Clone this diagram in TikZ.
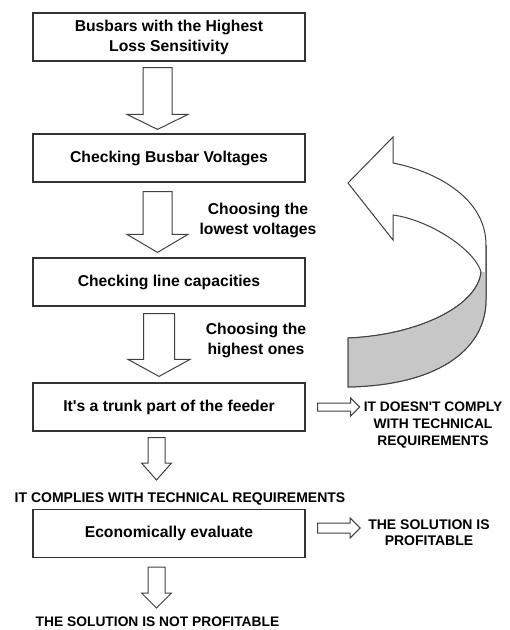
\documentclass[tikz,border=0pt]{standalone}
\usepackage{fontspec}
\setmainfont{Liberation Sans}[Ligatures=TeXOff]
\usetikzlibrary{calc}

% Hollow block arrow pointing down: #1 start (its x is the arrow axis), #2 tip (only y used),
% #3 shaft half width, #4 wing half width, #5 head length
\newcommand\fatdown[5]{%
  \draw[arrowline] let \p1=(#1), \p2=(#2) in
    (\x1-#3,\y1) -- (\x1+#3,\y1) -- (\x1+#3,\y2+#5) -- (\x1+#4,\y2+#5) --
    (\x1,\y2) -- (\x1-#4,\y2+#5) -- (\x1-#3,\y2+#5) -- cycle;}
% Hollow block arrow pointing right: #1 start (its y is the axis), #2 tip (only x used)
\newcommand\fatright[5]{%
  \draw[arrowline] let \p1=(#1), \p2=(#2) in
    (\x1,\y1+#3) -- (\x2-#5,\y1+#3) -- (\x2-#5,\y1+#4) -- (\x2,\y1) --
    (\x2-#5,\y1-#4) -- (\x2-#5,\y1-#3) -- (\x1,\y1-#3) -- cycle;}

\begin{document}
\begin{tikzpicture}[x=1pt,y=-1pt,
  box/.style={draw=black!80, line width=1.2pt, fill=white, minimum width=272pt,
    minimum height=48pt, inner sep=0pt, align=center,
    font=\fontsize{15.7}{20}\selectfont\bfseries},
  note/.style={inner sep=0pt, align=center, font=\fontsize{15.7}{20}\selectfont\bfseries},
  caps/.style={inner sep=0pt, align=center, font=\fontsize{13.8}{17}\selectfont\bfseries},
  arrowline/.style={draw=black!75, line width=1pt, fill=white, line join=miter}]

\useasboundingbox[fill=white] (0,0) rectangle (510,630);

% process boxes
\node[box] (b1) at (169,37)    {Busbars with the Highest\\Loss Sensitivity};
\node[box] (b2) at (169,158)   {Checking Busbar Voltages};
\node[box] (b3) at (169,282)   {Checking line capacities};
\node[box] (b4) at (169,407)   {It's a trunk part of the feeder};
\node[box] (b5) at (169,533.5) {Economically evaluate};

% side notes and outcomes
\node[note] (l1) at (258,220) {Choosing the\\lowest voltages};
\node[note] (l2) at (256,340) {Choosing the\\highest ones};
\node[caps] (r1) at (433,425) {IT DOESN'T COMPLY\\WITH TECHNICAL\\REQUIREMENTS};
\node[caps, font=\fontsize{14}{15.5}\selectfont\bfseries] (r2) at (429,532.5) {THE SOLUTION IS\\PROFITABLE};
\node[caps, font=\fontsize{14}{17}\selectfont\bfseries] (c1) at (180,499) {IT COMPLIES WITH TECHNICAL REQUIREMENTS};
\node[caps] (n1) at (157.5,622) {THE SOLUTION IS NOT PROFITABLE};

% downward block arrows
\fatdown{$(b1.south)+(-11.5,6)$}{$(b2.north)+(0,-4)$}{14.5pt}{30.5pt}{15pt}
\fatdown{$(b2.south)+(-11.5,9)$}{$(b3.north)+(0,-5)$}{14.5pt}{30.5pt}{18pt}
\fatdown{$(b3.south)+(-10,7)$}{$(b4.north)+(0,-6)$}{15.5pt}{31pt}{17pt}
\fatdown{$(b4.south)+(-12.5,6)$}{$(c1.center)+(0,-19)$}{8.5pt}{15pt}{17pt}
\fatdown{$(b5.south)+(-12.5,9)$}{$(n1.center)+(0,-14)$}{8.5pt}{15pt}{15pt}

% rightward block arrows
\fatright{$(b4.east)+(12,0)$}{$(r1.west)+(-4,0)$}{4pt}{9pt}{9pt}
\fatright{$(b5.east)+(12,-5.5)$}{$(r2.west)+(-8,0)$}{5pt}{10pt}{10pt}

% curved loop-back ribbon arrow
\draw[arrowline, fill=white]
  (348,183) -- (393,137) -- (393,163)
  .. controls (430,170) and (486,195) .. (486,245) -- (486,300)
  .. controls (486,345) and (445,385) .. (348,387) -- (348,338)
  .. controls (420,335) and (478,305) .. (481,272)
  .. controls (475,250) and (430,220) .. (393,215)
  -- (393,240) -- cycle;
\fill[black!22]
  (481,272) .. controls (478,305) and (420,335) .. (348,338) -- (348,387)
  .. controls (445,385) and (486,345) .. (486,300) -- (486,272) -- cycle;
\draw[draw=black!75, line width=1pt]
  (481,272) .. controls (478,305) and (420,335) .. (348,338) -- (348,387)
  .. controls (445,385) and (486,345) .. (486,300) -- (486,245);
\end{tikzpicture}
\end{document}
